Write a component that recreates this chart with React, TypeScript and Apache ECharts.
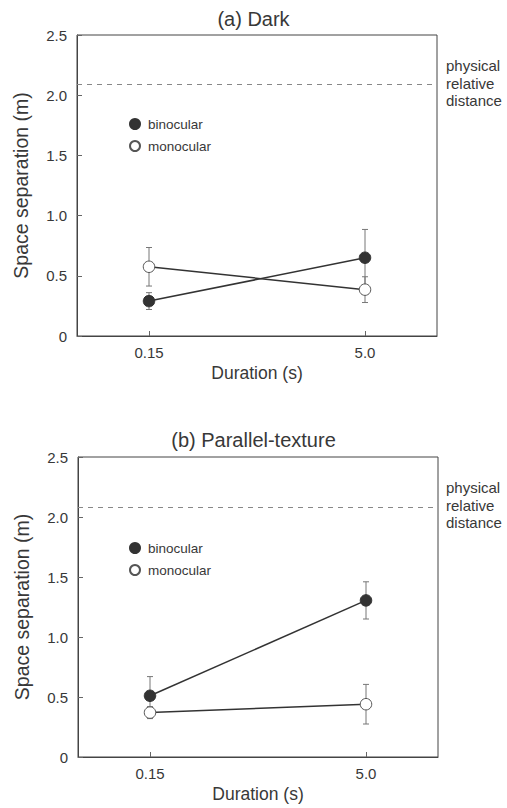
import React, { useEffect, useRef } from "react";
import * as echarts from "echarts";

const durations = ["0.15", "5.0"];
const xPositions = [1, 4];
const yTicks = [0, 0.5, 1.0, 1.5, 2.0, 2.5];

const darkBinocular = [0.29, 0.65];
const darkBinocularErr = [0.07, 0.235];
const darkMonocular = [0.575, 0.385];
const darkMonocularErr = [0.16, 0.107];
const darkPhysical = 2.09;

const texBinocular = [0.51, 1.305];
const texBinocularErr = [0.16, 0.155];
const texMonocular = [0.37, 0.44];
const texMonocularErr = [0.05, 0.165];
const texPhysical = 2.08;

const titles = ["(a) Dark", "(b) Parallel-texture"];
const FONT = "'Liberation Sans', Arial, Helvetica, sans-serif";
const TXT = "#383838";
const AX = "#444";

export default function App() {
  const ref = useRef<HTMLDivElement>(null);
  useEffect(() => {
    const chart = echarts.init(ref.current!, null, { renderer: "svg" });
    const grids = [
      { left: 77, top: 35, width: 360, height: 301 },
      { left: 78, top: 457, width: 360, height: 300 },
    ];
    const panels = [
      { bin: darkBinocular, binE: darkBinocularErr, mon: darkMonocular, monE: darkMonocularErr, phys: darkPhysical },
      { bin: texBinocular, binE: texBinocularErr, mon: texMonocular, monE: texMonocularErr, phys: texPhysical },
    ];
    const pts = (vals: number[]) => vals.map((v, i) => [xPositions[i], v]);
    const errs = (vals: number[], e: number[]) => vals.map((v, i) => [xPositions[i], v - e[i], v + e[i]]);
    const errRender = (params: any, api: any) => {
      const x = api.value(0);
      const lo = api.coord([x, api.value(1)]);
      const hi = api.coord([x, api.value(2)]);
      const w = 3;
      const style = { stroke: "#777", lineWidth: 1 };
      return {
        type: "group",
        children: [
          { type: "line", shape: { x1: lo[0], y1: lo[1], x2: hi[0], y2: hi[1] }, style },
          { type: "line", shape: { x1: lo[0] - w, y1: lo[1], x2: lo[0] + w, y2: lo[1] }, style },
          { type: "line", shape: { x1: hi[0] - w, y1: hi[1], x2: hi[0] + w, y2: hi[1] }, style },
        ],
      };
    };
    const series: any[] = [];
    panels.forEach((p, gi) => {
      series.push({
        type: "custom",
        xAxisIndex: gi,
        yAxisIndex: gi,
        renderItem: errRender,
        data: errs(p.bin, p.binE),
        z: 1,
        silent: true,
      });
      series.push({
        type: "custom",
        xAxisIndex: gi,
        yAxisIndex: gi,
        renderItem: errRender,
        data: errs(p.mon, p.monE),
        z: 1,
        silent: true,
      });
      series.push({
        name: "binocular",
        type: "line",
        xAxisIndex: gi,
        yAxisIndex: gi,
        data: pts(p.bin),
        symbol: "circle",
        symbolSize: 11.5,
        z: 3,
        lineStyle: { color: "#333", width: 1.5 },
        itemStyle: { color: "#333", borderColor: "#333", borderWidth: 1 },
        markLine: {
          silent: true,
          symbol: "none",
          label: { show: false },
          lineStyle: { color: "#888", type: [5, 5], width: 1 },
          data: [[{ coord: [0, p.phys] }, { coord: [4.95, p.phys] }]],
        },
      });
      series.push({
        name: "monocular",
        type: "line",
        xAxisIndex: gi,
        yAxisIndex: gi,
        data: pts(p.mon),
        symbol: "circle",
        symbolSize: 11.5,
        z: 4,
        lineStyle: { color: "#333", width: 1.5 },
        itemStyle: { color: "#fff", borderColor: "#555", borderWidth: 1 },
      });
    });
    const legendTops = [112, 536];
    chart.setOption({
      animation: false,
      textStyle: { fontFamily: FONT },
      title: titles.map((t, i) => ({
        text: t,
        left: "center",
        top: i === 0 ? 4 : 425,
        textStyle: { fontFamily: FONT, fontSize: 20, fontWeight: "normal", color: TXT },
      })),
      legend: legendTops.map((top) => ({
        orient: "vertical",
        left: 124,
        top,
        itemWidth: 10,
        itemHeight: 10,
        itemGap: 8,
        icon: "circle",
        selectedMode: false,
        data: ["binocular", "monocular"],
        textStyle: { fontFamily: FONT, fontSize: 13.5, color: TXT, padding: [0, 0, 0, 3] },
      })),
      grid: grids.map((g) => ({ ...g, show: true, borderColor: AX, borderWidth: 1, backgroundColor: "transparent" })),
      xAxis: grids.map((_, i) => ({
        type: "value",
        gridIndex: i,
        min: 0,
        max: 5,
        interval: 1,
        name: "Duration (s)",
        nameLocation: "middle",
        nameGap: 28,
        nameTextStyle: { fontFamily: FONT, fontSize: 17.5, color: TXT },
        splitLine: { show: false },
        axisLine: { lineStyle: { color: AX, width: 1 } },
        axisTick: { inside: true, length: 5, customValues: xPositions, lineStyle: { color: "#666" } },
        axisLabel: {
          customValues: xPositions,
          formatter: (v: number) => durations[xPositions.indexOf(v)] ?? "",
          fontFamily: FONT,
          fontSize: 15,
          color: TXT,
          margin: 9,
        },
      })),
      yAxis: grids.map((_, i) => ({
        type: "value",
        gridIndex: i,
        min: 0,
        max: 2.5,
        interval: 0.5,
        name: "Space separation (m)",
        nameLocation: "middle",
        nameGap: 46,
        nameTextStyle: { fontFamily: FONT, fontSize: 19.5, color: TXT },
        splitLine: { show: false },
        axisLine: { show: true, lineStyle: { color: AX, width: 1 } },
        axisTick: { inside: true, length: 5, lineStyle: { color: "#666" } },
        axisLabel: {
          formatter: (v: number) => (yTicks.indexOf(v) >= 0 ? (v === 0 ? "0" : v.toFixed(1)) : ""),
          fontFamily: FONT,
          fontSize: 15,
          color: TXT,
          margin: 10,
        },
      })),
      graphic: [57, 479].map((top) => ({
        type: "text",
        left: 446,
        top,
        style: {
          text: "physical\nrelative\ndistance",
          fontFamily: FONT,
          fontSize: 15,
          lineHeight: 17.5,
          fill: TXT,
        },
      })),
      series,
    });
    return () => chart.dispose();
  }, []);
  return <div ref={ref} style={{ position: "fixed", left: 0, top: 0, width: 507, height: 808, background: "#fff" }} />;
}
